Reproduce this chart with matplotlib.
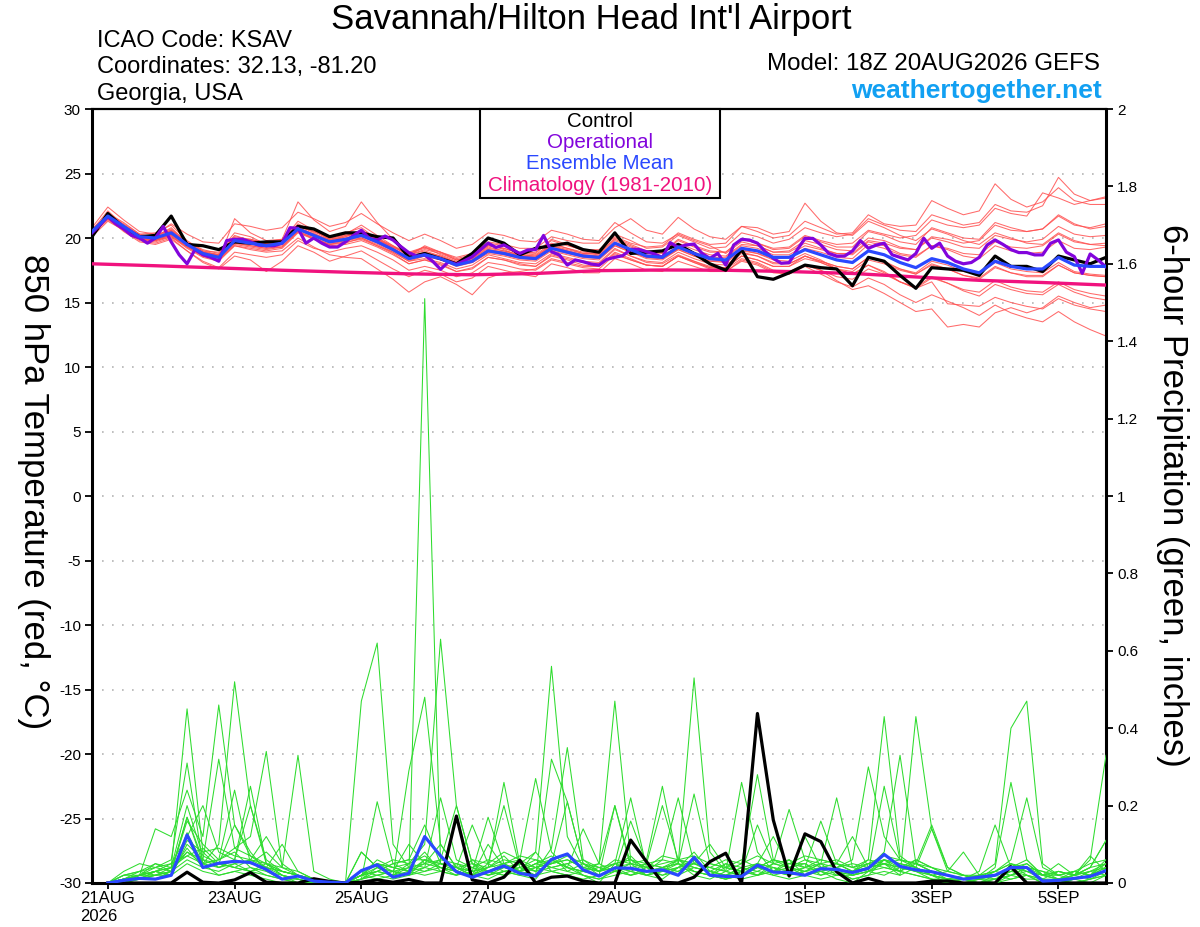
import numpy as np
import pandas as pd
import matplotlib
matplotlib.use('Agg')
import matplotlib.pyplot as plt
from matplotlib.patches import Rectangle

plt.rcParams['font.family'] = ['Liberation Sans', 'DejaVu Sans']

# ---------------- time axes ----------------
start = pd.Timestamp('2026-08-20 18:00')
times = pd.date_range(start, periods=65, freq='6h')
times_op = pd.date_range(start, periods=129, freq='3h')
times_clim = pd.date_range(start, periods=17, freq='24h')
times_pcp = times[1:]

tick_dates = pd.to_datetime(['2026-08-21', '2026-08-23', '2026-08-25', '2026-08-27',
                             '2026-08-29', '2026-09-01', '2026-09-03', '2026-09-05'])
tick_labels = ['21AUG\n2026', '23AUG', '25AUG', '27AUG', '29AUG', '1SEP', '3SEP', '5SEP']
temp_ticks = list(range(-30, 31, 5))
pcp_ticks = [0, 0.2, 0.4, 0.6, 0.8, 1.0, 1.2, 1.4, 1.6, 1.8, 2.0]
pcp_tick_labels = ['0', '0.2', '0.4', '0.6', '0.8', '1', '1.2', '1.4', '1.6', '1.8', '2']

# ---------------- 850 hPa temperature (deg C) ----------------
control_t = [20.1,21.9,20.8,20.1,20.2,21.7,19.5,19.4,19.1,19.7,
             19.6,19.7,19.7,20.9,20.7,20.1,20.4,20.4,20.1,20.0,
             18.5,18.8,18.4,18.0,18.8,20.0,19.6,18.7,19.2,19.4,
             19.6,19.1,18.9,20.4,18.8,18.9,19.0,19.5,18.8,18.0,
             17.5,19.1,17.0,16.8,17.3,17.9,17.7,17.6,16.3,18.5,
             18.2,17.1,16.1,17.7,17.6,17.5,17.1,18.6,17.8,17.8,
             17.4,18.6,18.3,18.0,18.5]

mean_t = [20.5,21.7,20.9,20.1,20.0,20.4,19.5,18.8,18.5,19.8,
          19.6,19.4,19.6,20.7,20.2,19.7,19.9,20.2,19.7,19.1,
          18.4,18.7,18.4,17.9,18.2,19.0,18.8,18.5,18.4,19.2,
          18.9,18.6,18.5,19.6,19.1,18.6,18.5,19.3,18.8,18.4,
          18.3,19.2,19.0,18.5,18.5,19.1,18.7,18.3,18.1,19.0,
          18.7,18.1,17.7,18.4,18.1,17.6,17.3,18.2,17.8,17.6,
          17.6,18.5,17.9,17.8,17.8]

operational_t = [20.4,21.0,21.65,21.1,20.7,20.2,20.0,19.6,20.0,20.9,
                 19.7,18.7,18.0,19.1,18.7,18.5,18.2,19.8,19.9,19.9,
                 19.7,19.45,19.4,19.4,19.6,20.8,20.75,19.6,20.0,19.6,
                 19.3,19.3,19.7,20.2,20.6,19.97,19.84,20.15,19.84,19.33,
                 18.86,18.6,18.68,18.2,17.57,18.16,17.96,18.24,18.55,19.07,
                 19.6,19.27,19.46,19.12,18.8,19.07,19.1,20.2,18.94,18.68,
                 17.9,18.3,18.16,17.98,17.9,18.35,18.5,18.63,19.12,19.12,
                 18.94,18.76,18.5,19.64,19.27,19.46,19.53,18.81,18.42,18.81,
                 17.9,19.46,19.9,19.84,19.6,18.94,18.42,18.04,18.09,19.07,
                 19.97,19.97,19.46,18.81,18.6,18.6,19.0,19.8,19.2,19.45,
                 19.6,18.7,18.5,18.3,18.8,19.98,19.2,19.6,18.6,18.2,
                 18.0,18.1,18.5,19.46,19.85,19.5,19.1,18.87,18.87,18.69,
                 18.69,19.59,19.85,18.9,18.56,17.26,18.76,18.3,17.75]

climatology_t = [18.0,17.85,17.68,17.5,17.35,17.22,17.15,17.25,17.47,
                 17.52,17.5,17.4,17.25,16.98,16.72,16.55,16.35]

member_t01 = [20.3,21.9,21.2,20.3,20.4,21.0,19.8,19.0,18.9,20.4,
              20.1,19.5,19.8,21.3,20.6,19.9,20.3,21.0,20.2,19.4,
              18.6,19.4,18.9,18.3,18.6,19.6,19.4,18.9,18.8,19.9,
              19.5,19.0,18.9,20.3,19.8,19.2,19.3,20.2,19.7,19.2,
              19.3,20.4,20.1,19.6,19.9,20.8,20.4,20.1,20.3,21.5,
              21.0,20.6,20.5,21.8,21.4,21.0,21.2,22.6,22.1,22.0,
              22.5,24.7,23.4,22.9,23.1]
member_t02 = [20.6,22.1,21.0,20.0,19.8,20.6,19.4,18.6,18.3,19.9,
              19.9,19.6,19.7,21.0,20.4,19.7,20.1,20.6,20.0,19.3,
              18.8,19.3,18.7,18.2,18.5,19.4,19.2,18.8,18.9,19.8,
              19.4,19.1,19.1,20.1,19.6,19.3,19.4,20.4,19.9,19.5,
              19.6,20.9,20.5,20.0,20.2,21.3,20.8,20.3,20.4,21.8,
              21.1,20.9,21.0,22.9,22.3,21.8,22.1,24.2,23.0,22.4,
              22.8,23.9,22.9,22.6,22.6]
member_t03 = [20.2,21.6,20.8,20.2,20.1,20.8,19.6,18.9,18.7,20.2,
              19.8,19.3,19.5,20.9,20.5,20.1,20.4,20.8,19.9,19.2,
              18.5,18.9,18.6,18.1,18.4,19.3,19.0,18.7,18.6,19.5,
              19.2,18.8,18.8,19.9,19.4,18.9,18.9,19.8,19.3,18.9,
              18.9,19.9,19.6,19.2,19.3,20.2,19.8,19.5,19.6,20.6,
              20.3,20.0,20.2,21.4,21.0,20.8,21.0,22.3,21.9,21.7,
              23.5,23.1,22.6,22.9,23.2]
member_t04 = [20.4,21.5,20.7,19.9,19.7,20.1,19.2,18.5,18.2,19.4,
              19.2,19.0,19.2,20.4,19.9,19.4,19.5,19.8,19.3,18.7,
              18.0,18.3,17.9,17.4,17.7,18.5,18.3,18.0,17.8,18.6,
              18.3,17.9,17.8,18.9,18.4,17.9,17.8,18.6,18.1,17.6,
              17.4,18.3,18.0,17.4,17.2,17.8,17.2,16.6,16.2,16.9,
              16.4,15.6,15.0,15.6,15.1,14.6,14.0,14.8,14.2,13.8,
              13.5,14.3,13.5,12.9,12.4]
member_t05 = [20.7,21.8,20.9,20.2,19.9,20.3,19.5,18.7,18.4,19.6,
              19.4,19.2,19.3,20.5,20.0,19.5,19.6,20.0,19.5,18.9,
              18.2,18.4,18.1,17.6,17.9,18.7,18.4,18.1,18.0,18.8,
              18.5,18.2,18.1,19.2,18.6,18.1,18.0,18.7,18.2,17.7,
              17.6,18.4,18.1,17.5,17.4,17.9,17.5,16.7,16.0,16.3,
              15.7,15.0,14.3,14.5,13.1,13.3,13.1,14.2,14.6,14.2,
              14.6,15.5,15.0,14.6,14.8]
member_t06 = [20.5,21.7,21.0,20.2,20.2,20.7,19.7,19.1,18.8,20.0,
              19.8,19.7,19.9,20.8,20.3,19.8,20.2,20.5,19.9,19.3,
              18.7,19.0,18.6,18.1,18.4,19.2,19.0,18.7,18.6,19.4,
              19.1,18.8,18.7,19.8,19.3,18.9,18.8,19.6,19.1,18.7,
              18.6,19.5,19.4,18.9,18.9,19.6,19.2,18.8,18.7,19.7,
              19.4,18.8,18.6,19.4,19.1,18.6,18.4,19.4,19.0,18.8,
              18.9,19.8,19.2,19.1,19.3]
member_t07 = [20.1,21.3,20.6,19.8,19.6,20.0,19.0,18.1,17.6,18.6,
              18.3,17.4,18.2,19.4,18.9,18.2,18.6,19.0,18.3,17.6,
              17.0,17.5,17.2,16.6,16.9,17.8,17.5,17.2,17.0,18.0,
              17.7,17.3,17.3,18.4,18.0,17.5,17.4,18.2,17.8,17.4,
              17.4,18.2,17.9,17.3,17.2,17.9,17.5,17.0,16.8,17.6,
              17.2,16.6,16.1,16.9,16.5,15.9,15.5,16.4,16.0,15.7,
              15.6,16.4,15.8,15.4,15.2]
member_t08 = [20.8,22.4,21.4,20.5,20.3,21.1,20.3,19.7,19.6,21.1,
              20.9,20.6,20.8,22.0,21.5,20.9,21.2,21.9,21.1,20.4,
              19.8,20.3,19.8,19.2,19.5,20.4,20.2,19.8,19.7,20.6,
              20.3,19.9,19.8,21.2,20.4,19.7,19.6,20.3,19.8,19.4,
              18.8,19.7,19.4,18.9,19.0,19.8,19.5,19.1,19.0,20.0,
              19.8,19.3,19.1,20.0,19.7,19.3,19.2,20.2,19.9,19.7,
              19.9,20.9,20.3,20.1,20.2]
member_t09 = [20.3,21.6,20.8,20.0,19.9,20.2,19.3,18.6,18.3,19.5,
              19.3,19.1,19.3,20.5,19.9,19.5,19.8,20.0,19.4,18.8,
              18.0,18.3,18.0,17.4,17.6,18.5,18.3,17.9,17.8,18.7,
              18.4,18.1,18.0,19.1,18.6,18.2,18.1,18.9,18.4,18.0,
              17.9,18.8,18.6,18.0,18.0,18.6,18.2,17.8,17.6,18.5,
              18.2,17.6,17.2,17.9,17.6,17.1,16.8,17.7,17.3,17.0,
              17.0,17.9,17.3,17.1,17.0]
member_t10 = [20.6,21.8,21.1,20.3,20.0,20.5,19.5,18.9,18.6,19.7,
              19.5,19.3,19.6,20.6,20.1,19.6,19.8,20.1,19.6,19.0,
              18.3,18.6,18.3,17.8,18.1,18.8,18.6,18.3,18.2,19.0,
              18.7,18.4,18.3,19.4,18.9,18.4,18.3,19.1,18.6,18.2,
              18.2,19.1,18.8,18.4,18.5,19.2,18.9,18.5,18.4,19.5,
              19.2,18.7,18.5,19.4,19.2,18.8,18.7,19.7,19.3,19.2,
              19.4,20.3,19.7,19.5,19.6]
member_t11 = [20.4,21.6,20.8,20.1,20.1,20.4,19.6,18.9,18.6,19.8,
              19.7,19.5,19.7,20.8,20.3,19.8,19.9,20.3,19.8,19.2,
              18.5,18.8,18.5,18.0,18.3,19.1,18.9,18.6,18.5,19.2,
              18.9,18.6,18.5,19.5,19.0,18.5,18.4,19.2,18.7,18.3,
              18.2,19.0,18.8,18.3,18.2,18.8,18.3,17.6,17.2,17.9,
              17.3,16.6,16.1,16.6,14.9,14.8,14.7,15.4,15.0,14.7,
              14.5,15.3,14.8,14.5,14.3]
member_t12 = [20.5,21.9,21.0,20.2,20.1,20.6,19.6,19.0,18.7,20.1,
              19.9,19.6,19.8,21.1,20.5,19.9,20.1,20.5,19.9,19.3,
              18.7,19.1,18.8,18.3,18.5,19.4,19.2,18.8,18.7,19.6,
              19.2,18.9,18.8,20.0,19.5,19.0,18.9,19.9,19.4,19.0,
              18.9,19.9,19.6,19.1,19.2,20.1,19.7,19.3,19.3,20.5,
              20.2,19.7,19.5,20.8,20.4,20.0,19.9,21.2,20.8,20.5,
              20.7,21.8,21.1,20.7,20.9]
member_t13 = [20.2,21.8,20.9,20.0,19.8,20.3,19.4,18.7,18.3,21.5,
              20.4,19.8,19.9,22.8,21.4,20.5,20.9,22.8,21.2,19.9,
              18.9,19.3,18.9,18.4,18.7,19.5,19.1,18.6,18.5,19.4,
              19.0,18.7,18.6,19.6,19.1,18.6,18.5,19.3,18.8,18.4,
              18.3,19.2,19.0,18.5,18.5,19.1,18.7,18.3,18.1,19.0,
              18.7,18.1,17.7,18.4,18.1,17.6,17.3,18.2,17.8,17.6,
              17.6,18.5,17.9,17.8,17.8]
member_t14 = [20.3,21.4,20.6,19.9,19.8,20.1,19.3,18.6,18.3,19.4,
              19.1,18.9,19.0,20.0,19.3,18.7,18.5,18.4,17.6,16.8,
              15.8,16.6,17.0,16.4,15.6,16.9,17.3,17.4,17.6,18.4,
              18.1,17.8,17.8,18.8,18.3,17.9,17.8,18.6,18.2,17.8,
              17.7,18.6,18.3,17.8,17.8,18.4,18.1,17.6,17.4,18.3,
              18.0,17.5,17.2,18.0,17.6,17.1,16.9,17.8,17.3,17.1,
              17.1,17.9,17.3,17.1,17.0]
member_t15 = [20.6,21.5,20.5,19.7,19.5,19.9,19.0,18.2,17.7,18.9,
              18.7,18.5,18.7,19.8,19.2,18.9,19.2,19.4,18.9,18.3,
              17.5,17.8,17.5,17.0,17.3,18.1,17.9,17.6,17.5,18.3,
              18.0,17.7,17.6,18.7,18.3,17.9,17.8,18.6,18.1,17.7,
              17.7,18.6,18.3,17.8,17.8,18.6,18.2,17.8,17.6,18.5,
              18.1,17.6,17.3,18.2,17.9,17.4,17.2,18.1,17.6,17.4,
              17.3,18.1,17.4,17.2,17.1]
member_t16 = [20.4,21.7,20.9,20.1,20.0,20.5,19.6,18.9,18.6,19.9,
              19.8,19.6,19.7,20.9,20.5,20.0,20.2,20.5,20.0,19.4,
              18.8,19.2,18.9,18.5,18.8,19.7,19.5,19.2,19.2,20.1,
              19.8,19.6,19.6,20.8,21.5,20.6,20.3,21.6,20.7,20.1,
              19.9,20.9,20.8,20.3,20.5,22.7,21.3,20.4,20.2,21.3,
              20.8,20.2,19.8,20.7,20.3,19.8,19.5,20.4,20.0,19.6,
              19.5,20.4,19.8,19.5,19.4]
member_t17 = [20.2,21.5,20.7,19.9,19.8,20.2,19.3,18.7,18.4,19.6,
              19.4,19.2,19.4,20.5,20.0,19.5,19.7,19.9,19.4,18.9,
              18.2,18.6,18.3,17.9,18.1,18.9,18.7,18.4,18.3,19.1,
              18.8,18.5,18.4,19.4,18.9,18.5,18.4,19.1,18.6,18.2,
              18.1,18.9,18.6,18.1,18.0,18.6,18.1,17.6,17.2,17.9,
              17.4,16.6,16.2,17.0,16.5,16.0,15.8,16.7,16.2,15.9,
              15.8,16.6,16.0,15.7,15.5]
member_t18 = [20.5,21.8,21.0,20.2,20.2,20.6,19.6,18.9,18.7,20.0,
              19.7,19.5,19.7,20.8,20.3,19.9,20.0,20.4,19.8,19.1,
              18.4,18.8,18.5,18.0,18.3,19.1,18.9,18.6,18.5,19.3,
              19.0,18.7,18.6,19.6,19.1,18.7,18.6,19.4,18.9,18.5,
              18.5,19.4,19.2,18.7,18.7,19.4,19.1,18.8,18.8,19.8,
              19.6,19.2,19.1,20.1,19.9,19.6,19.8,21.0,20.6,20.5,
              20.7,21.7,21.0,20.8,21.1]

temp_members = [member_t01, member_t02, member_t03, member_t04, member_t05, member_t06,
                member_t07, member_t08, member_t09, member_t10, member_t11, member_t12,
                member_t13, member_t14, member_t15, member_t16, member_t17, member_t18]

# ---------------- 6-hour precipitation (inches) ----------------
control_p = [0,0,0,0,0,0.028,0.002,0,
             0.008,0.027,0.002,0,0,0.011,0.004,0,
             0.002,0.008,0.002,0.009,0,0,0.173,0.008,
             0,0.015,0.059,0,0.015,0.018,0.005,0,
             0,0.111,0.055,0.002,0,0.015,0.055,0.077,
             0,0.438,0.163,0.018,0.127,0.107,0.029,0,
             0.012,0,0,0,0.005,0.005,0,0,
             0,0.042,0,0,0,0,0,0]

mean_p = [0.0,0.007,0.012,0.01,0.02,0.124,0.04,0.051,
          0.056,0.053,0.035,0.01,0.018,0.005,0.002,0,
          0.032,0.047,0.015,0.025,0.12,0.07,0.029,0.015,
          0.029,0.044,0.025,0.018,0.061,0.075,0.034,0.018,
          0.039,0.038,0.03,0.034,0.02,0.066,0.02,0.017,
          0.017,0.046,0.028,0.027,0.02,0.037,0.035,0.027,
          0.038,0.074,0.043,0.034,0.029,0.02,0.01,0.015,
          0.02,0.04,0.04,0.005,0.007,0.012,0.017,0.032]

member_p01 = [0,0,0.01,0.02,0.03,0.17,0.05,0.02, 0.03,0.02,0.01,0,0,0,0,0,
              0.02,0.05,0.03,0.02,1.51,0.05,0.03,0.02, 0.01,0.03,0.02,0.01,0.06,0.04,0.02,0,
              0.05,0.03,0.02,0.04,0.03,0.06,0.02,0.01, 0.03,0.05,0.02,0.01,0.02,0.04,0.03,0.01,
              0.02,0.06,0.03,0.02,0.01,0,0.01,0, 0,0.02,0.04,0.01,0,0.01,0.02,0.03]
member_p02 = [0,0.02,0.03,0.05,0.04,0.45,0.08,0.04, 0.06,0.25,0.05,0.02,0.01,0,0,0,
              0.47,0.62,0.1,0.04,0.08,0.03,0.02,0.06, 0.03,0.02,0.05,0.08,0.03,0.02,0.01,0.02,
              0.03,0.05,0.02,0.01,0.04,0.08,0.03,0.02, 0.04,0.02,0.03,0.06,0.02,0.01,0.02,0.03,
              0.06,0.43,0.07,0.04,0.02,0.01,0,0, 0.01,0.03,0.02,0,0,0,0.01,0.02]
member_p03 = [0,0.01,0.02,0.14,0.12,0.24,0.12,0.46, 0.15,0.08,0.03,0.01,0,0,0,0,
              0.08,0.04,0.02,0.29,0.48,0.1,0.04,0.02, 0.05,0.2,0.04,0.02,0.32,0.21,0.05,0.02,
              0.2,0.04,0.02,0.03,0.05,0.02,0.01,0.03, 0.26,0.08,0.03,0.02,0.04,0.03,0.01,0,
              0.03,0.05,0.02,0.43,0.14,0.04,0.02,0.01, 0,0.05,0.02,0.01,0.03,0.02,0.04,0.11]
member_p04 = [0,0.03,0.05,0.04,0.06,0.31,0.05,0.1, 0.52,0.2,0.06,0.03,0.02,0.01,0,0,
              0.02,0.06,0.04,0.05,0.1,0.63,0.2,0.05, 0.02,0.04,0.03,0.08,0.56,0.12,0.04,0.03,
              0.05,0.06,0.04,0.05,0.06,0.03,0.02,0.01, 0.02,0.04,0.03,0.05,0.05,0.02,0.04,0.06,
              0.3,0.12,0.06,0.05,0.03,0.01,0.01,0.02, 0.05,0.4,0.47,0.05,0.02,0.03,0.02,0.04]
member_p05 = [0,0.01,0.02,0.03,0.02,0.1,0.06,0.32, 0.09,0.12,0.34,0.04,0.02,0.01,0,0,
              0.01,0.03,0.05,0.06,0.06,0.04,0.03,0.02, 0.04,0.06,0.05,0.03,0.09,0.35,0.06,0.03,
              0.04,0.02,0.03,0.06,0.05,0.53,0.08,0.03, 0.02,0.05,0.04,0.03,0.04,0.06,0.05,0.03,
              0.04,0.08,0.33,0.05,0.03,0.02,0.01,0, 0.02,0.04,0.06,0.02,0.01,0.02,0.03,0.05]
member_p06 = [0,0.01,0.03,0.02,0.04,0.08,0.05,0.06, 0.24,0.05,0.08,0.04,0.33,0.03,0.01,0,
              0.02,0.04,0.03,0.02,0.06,0.05,0.04,0.03, 0.17,0.05,0.03,0.04,0.06,0.04,0.03,0.05,
              0.47,0.06,0.03,0.04,0.05,0.03,0.02,0.04, 0.03,0.02,0.05,0.19,0.06,0.04,0.03,0.02,
              0.04,0.05,0.03,0.06,0.04,0.02,0.01,0.01, 0.03,0.02,0.04,0.03,0.01,0.02,0.06,0.33]
member_p07 = [0,0,0.02,0.03,0.05,0.12,0.2,0.08, 0.06,0.2,0.05,0.03,0.02,0.01,0,0,
              0.01,0.21,0.05,0.03,0.04,0.22,0.06,0.04, 0.03,0.05,0.06,0.27,0.08,0.04,0.03,0.02,
              0.04,0.05,0.06,0.25,0.05,0.04,0.03,0.02, 0.04,0.03,0.05,0.04,0.06,0.05,0.22,0.04,
              0.03,0.06,0.05,0.04,0.02,0.01,0.02,0.01, 0.04,0.26,0.06,0.02,0.01,0.03,0.02,0.04]
member_p08 = [0,0.01,0.01,0.03,0.04,0.2,0.07,0.05, 0.04,0.06,0.12,0.05,0.02,0.01,0,0,
              0.03,0.05,0.04,0.03,0.05,0.06,0.2,0.05, 0.04,0.26,0.05,0.03,0.05,0.06,0.04,0.03,
              0.05,0.22,0.04,0.03,0.06,0.05,0.04,0.03, 0.05,0.28,0.06,0.04,0.03,0.05,0.04,0.02,
              0.03,0.25,0.06,0.04,0.02,0.01,0.01,0.02, 0.03,0.05,0.03,0.02,0.02,0.01,0.03,0.02]
member_p09 = [0,0.02,0.02,0.04,0.03,0.08,0.06,0.05, 0.15,0.07,0.04,0.03,0.02,0,0,0,
              0.02,0.03,0.05,0.06,0.15,0.05,0.04,0.15, 0.05,0.03,0.04,0.06,0.05,0.21,0.05,0.03,
              0.04,0.03,0.05,0.06,0.22,0.05,0.04,0.03, 0.02,0.04,0.06,0.05,0.04,0.16,0.05,0.03,
              0.04,0.05,0.06,0.05,0.15,0.04,0.02,0.01, 0.03,0.06,0.22,0.04,0.02,0.03,0.02,0.06]
member_p10 = [0,0.01,0.02,0.02,0.03,0.17,0.06,0.04, 0.05,0.06,0.04,0.1,0.03,0.01,0,0,
              0.01,0.02,0.03,0.04,0.05,0.1,0.04,0.03, 0.04,0.05,0.03,0.05,0.06,0.04,0.14,0.05,
              0.03,0.04,0.05,0.2,0.06,0.04,0.03,0.05, 0.04,0.05,0.12,0.04,0.05,0.03,0.04,0.05,
              0.04,0.06,0.05,0.04,0.14,0.03,0.02,0.02, 0.01,0.03,0.04,0.02,0.03,0.02,0.04,0.11]
member_p11 = [0,0,0.01,0.02,0.03,0.06,0.04,0.05, 0.04,0.03,0.05,0.02,0.01,0,0,0,
              0.08,0.04,0.03,0.1,0.05,0.04,0.03,0.02, 0.1,0.04,0.03,0.05,0.04,0.03,0.05,0.04,
              0.03,0.16,0.05,0.04,0.05,0.23,0.05,0.04, 0.03,0.05,0.04,0.03,0.12,0.04,0.05,0.03,
              0.05,0.04,0.03,0.05,0.04,0.02,0.01,0.03, 0.15,0.04,0.03,0.02,0.01,0.02,0.03,0.04]
member_p12 = [0,0.01,0.02,0.03,0.04,0.07,0.05,0.04, 0.06,0.05,0.04,0.03,0.02,0.01,0,0,
              0.03,0.05,0.04,0.03,0.06,0.05,0.04,0.05, 0.03,0.04,0.05,0.04,0.05,0.06,0.04,0.05,
              0.2,0.05,0.04,0.03,0.04,0.05,0.1,0.04, 0.03,0.15,0.05,0.04,0.03,0.04,0.05,0.12,
              0.04,0.05,0.04,0.03,0.02,0.03,0.08,0.02, 0.02,0.03,0.05,0.02,0.05,0.02,0.07,0.03]
member_p13 = [0,0.01,0.01,0.02,0.02,0.05,0.03,0.02, 0.03,0.04,0.02,0.01,0,0,0,0,
              0.01,0.02,0.03,0.02,0.03,0.04,0.02,0.03, 0.02,0.03,0.04,0.03,0.04,0.05,0.02,0.01,
              0.02,0.03,0.02,0.03,0.04,0.06,0.02,0.01, 0.02,0.03,0.02,0.03,0.02,0.03,0.02,0.02,
              0.03,0.04,0.03,0.02,0.01,0.01,0,0, 0.01,0.02,0.03,0.01,0.01,0,0.01,0.02]
member_p14 = [0,0,0.02,0.01,0.03,0.09,0.04,0.03, 0.05,0.03,0.04,0.02,0.01,0,0,0,
              0.02,0.03,0.02,0.04,0.03,0.05,0.04,0.02, 0.03,0.02,0.03,0.05,0.07,0.03,0.02,0.01,
              0.03,0.02,0.04,0.02,0.03,0.05,0.03,0.02, 0.01,0.02,0.04,0.02,0.03,0.02,0.03,0.01,
              0.02,0.03,0.02,0.04,0.02,0.01,0,0.01, 0.02,0.01,0.02,0,0.01,0.02,0.01,0.03]
member_p15 = [0,0.01,0.02,0.03,0.02,0.13,0.05,0.06, 0.08,0.04,0.03,0.02,0,0,0,0,
              0.03,0.02,0.01,0.02,0.04,0.03,0.05,0.03, 0.04,0.07,0.03,0.02,0.03,0.04,0.03,0.02,
              0.04,0.07,0.03,0.02,0.04,0.03,0.02,0.05, 0.02,0.04,0.03,0.02,0.03,0.05,0.02,0.03,
              0.05,0.06,0.04,0.03,0.02,0,0,0.01, 0.01,0.02,0.01,0.01,0,0.01,0.02,0.05]
member_p16 = [0,0.02,0.03,0.04,0.05,0.07,0.09,0.05, 0.04,0.03,0.02,0.01,0.01,0,0,0,
              0.02,0.01,0.02,0.03,0.02,0.03,0.02,0.04, 0.02,0.03,0.02,0.04,0.03,0.02,0.03,0.04,
              0.03,0.02,0.03,0.04,0.02,0.04,0.03,0.02, 0.03,0.02,0.03,0.04,0.02,0.03,0.04,0.02,
              0.03,0.02,0.04,0.03,0.01,0,0.01,0, 0,0.01,0.02,0.01,0,0.01,0,0.02]
member_p17 = [0,0.01,0.02,0.05,0.03,0.16,0.1,0.06, 0.09,0.07,0.05,0.04,0.03,0.01,0,0,
              0.01,0.04,0.06,0.05,0.07,0.04,0.03,0.06, 0.05,0.08,0.06,0.04,0.05,0.07,0.05,0.03,
              0.06,0.05,0.04,0.07,0.06,0.05,0.04,0.06, 0.05,0.07,0.05,0.06,0.04,0.05,0.06,0.04,
              0.05,0.07,0.06,0.05,0.03,0.02,0.01,0.02, 0.03,0.05,0.04,0.03,0.02,0.03,0.05,0.06]
member_p18 = [0,0.01,0.01,0.03,0.02,0.11,0.08,0.09, 0.07,0.06,0.05,0.03,0.02,0.01,0,0,
              0.02,0.03,0.02,0.05,0.04,0.06,0.05,0.04, 0.06,0.05,0.07,0.06,0.04,0.05,0.06,0.04,
              0.05,0.06,0.05,0.04,0.06,0.07,0.05,0.04, 0.06,0.04,0.06,0.05,0.07,0.06,0.05,0.04,
              0.06,0.05,0.04,0.06,0.04,0.03,0.02,0.01, 0.02,0.04,0.05,0.02,0.03,0.02,0.04,0.05]

pcp_members = [member_p01, member_p02, member_p03, member_p04, member_p05, member_p06,
               member_p07, member_p08, member_p09, member_p10, member_p11, member_p12,
               member_p13, member_p14, member_p15, member_p16, member_p17, member_p18]

# ---------------- styling ----------------
RED = '#ff5050'
GREEN = '#2edc2e'
PURPLE = '#8204dc'
BLUE = '#2a48ff'
PINK = '#f0127e'

W, H = 1200, 927
fig = plt.figure(figsize=(W / 100, H / 100), dpi=100)
L, R, T, B = 92, 1106, 109, 883
ax = fig.add_axes([L / W, 1 - B / H, (R - L) / W, (B - T) / H])
ax2 = ax.twinx()

# grid
for yv in temp_ticks[1:-1]:
    ax.axhline(yv, color='#b4b4b4', lw=1.2, ls=(0, (1, 5)), zorder=1)

for m in temp_members:
    ax.plot(times, m, color=RED, lw=0.75, alpha=0.85, zorder=2)

ax.plot(times_clim, climatology_t, color=PINK, lw=2.4, zorder=4)
ax.plot(times, control_t, color='black', lw=2.3, zorder=5)
ax.plot(times_op, operational_t, color=PURPLE, lw=2.3, zorder=6)
ax.plot(times, mean_t, color=BLUE, lw=2.3, zorder=7)

for m in pcp_members:
    ax2.plot(times_pcp, m, color=GREEN, lw=0.75, zorder=2)
ax2.plot(times_pcp, control_p, color='black', lw=2.3, zorder=5)
ax2.plot(times_pcp, mean_p, color=BLUE, lw=2.3, zorder=6)

ax.set_xlim(times[0], times[-1])
ax.set_ylim(-30, 30)
ax2.set_ylim(0, 2)

ax.set_yticks(temp_ticks)
ax.set_yticklabels([str(v) for v in temp_ticks])
ax2.set_yticks(pcp_ticks)
ax2.set_yticklabels(pcp_tick_labels)
ax.set_xticks(tick_dates)
ax.set_xticklabels(tick_labels)
for lab in ax.get_xticklabels():
    lab.set_multialignment('left')

ax.tick_params(axis='y', direction='out', length=5, width=1.3, labelsize=11, pad=3)
ax.tick_params(axis='x', direction='out', length=4, width=1.3, labelsize=12, pad=2)
ax2.tick_params(axis='y', direction='out', length=5, width=1.3, labelsize=11, pad=3)

for sp in ['left', 'right', 'bottom']:
    ax.spines[sp].set_linewidth(2.2)
ax.spines['top'].set_linewidth(1.6)
for sp in ax2.spines.values():
    sp.set_visible(False)

# legend box
lx0 = (480 - L) / (R - L)
lx1 = (720 - L) / (R - L)
ly0 = (B - 198) / (B - T)
ax2.add_patch(Rectangle((lx0, ly0), lx1 - lx0, 1 - ly0, transform=ax2.transAxes,
                        facecolor='white', edgecolor='black', lw=1.5, zorder=20,
                        clip_on=False))
leg_items = [('Control', 'black', 121), ('Operational', PURPLE, 142),
             ('Ensemble Mean', BLUE, 163), ('Climatology (1981-2010)', PINK, 185)]
for txt, col, ypx in leg_items:
    ax2.text((600 - L) / (R - L), (B - ypx) / (B - T), txt, color=col, fontsize=14.8,
             ha='center', va='center', transform=ax2.transAxes, zorder=21)

# header texts
fig.text(591 / W, 1 - 29 / H, "Savannah/Hilton Head Int'l Airport", fontsize=25,
         ha='center', va='baseline')
fig.text(97 / W, 1 - 47 / H, 'ICAO Code: KSAV', fontsize=17, ha='left', va='baseline')
fig.text(97 / W, 1 - 73 / H, 'Coordinates: 32.13, -81.20', fontsize=17, ha='left', va='baseline')
fig.text(97 / W, 1 - 100 / H, 'Georgia, USA', fontsize=17, ha='left', va='baseline')
fig.text(1100 / W, 1 - 70 / H, 'Model: 18Z 20AUG2026 GEFS', fontsize=17.4, ha='right', va='baseline')
fig.text(1102 / W, 1 - 98 / H, 'weathertogether.net', fontsize=19, fontweight='bold',
         color='#12a0f2', ha='right', va='baseline')

fig.text(33 / W, 1 - 492 / H, '850 hPa Temperature (red, \u00b0C)', fontsize=25,
         rotation=270, ha='center', va='center')
fig.text(1172 / W, 1 - 495 / H, '6-hour Precipitation (green, inches)', fontsize=25,
         rotation=270, ha='center', va='center')

fig.savefig('out.png', dpi=100)
